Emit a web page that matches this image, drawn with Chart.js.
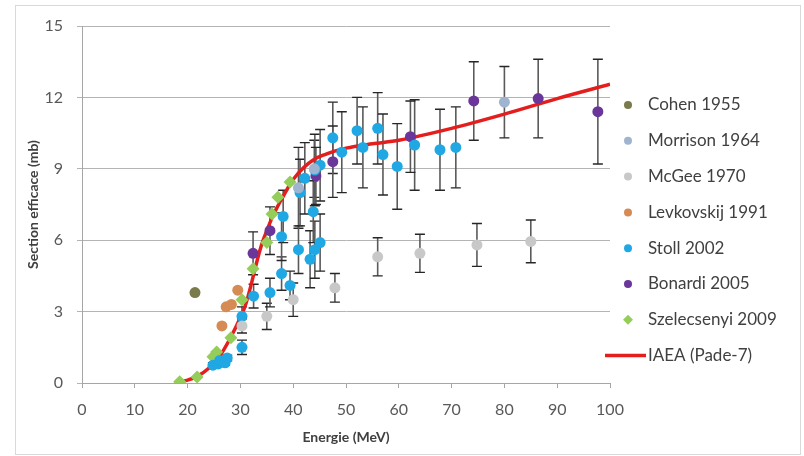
<!DOCTYPE html>
<html>
<head>
<meta charset="utf-8">
<script src="https://cdn.jsdelivr.net/npm/chart.js@4"></script>
<style>
body { margin: 0; background: #fff; }
</style>
</head>
<body>
<canvas id="xs" width="804" height="456"></canvas>
<script>
// series data (energy MeV, cross section mb, error mb)
var cohenX = [21.4];
var cohenY = [3.8];

var morrisonX = [41, 44, 80];
var morrisonY = [8.2, 9.0, 11.8];
var morrisonErr = [1.7, 1.2, 1.5];

var mcgeeX = [30.3, 35, 40, 47.9, 56, 64, 74.8, 85];
var mcgeeY = [2.4, 2.8, 3.5, 4.0, 5.3, 5.45, 5.8, 5.95];
var mcgeeErr = [0.3, 0.55, 0.7, 0.6, 0.8, 0.8, 0.9, 0.9];

var levkX = [26.5, 27.3, 28.3, 29.5];
var levkY = [2.4, 3.2, 3.3, 3.9];

var stollX = [24.8, 25.8, 26.1, 27.1, 27.5, 30.3, 30.3, 32.5, 35.6, 37.8, 39.4, 37.8, 38.1, 41, 43.2, 44.1, 45.1, 43.8, 41.3, 42.2, 44.1, 45.1, 47.5, 49.2, 52.1, 53.2, 56, 57, 59.7, 63, 67.8, 70.8];
var stollY = [0.75, 0.8, 0.95, 0.85, 1.05, 1.5, 2.8, 3.65, 3.8, 4.6, 4.1, 6.15, 7.0, 5.6, 5.2, 5.6, 5.9, 7.2, 8.0, 8.6, 8.95, 9.15, 10.3, 9.7, 10.6, 9.9, 10.7, 9.6, 9.1, 10.0, 9.8, 9.9];
var stollErr = [0.1, 0.1, 0.1, 0.1, 0.12, 0.3, 0.4, 0.5, 0.6, 0.7, 0.6, 1.0, 1.1, 1.0, 1.2, 1.2, 1.2, 1.3, 1.4, 1.5, 1.5, 1.5, 1.5, 1.7, 1.4, 1.7, 1.5, 1.7, 1.8, 1.9, 1.7, 1.7];

var bonardiX = [32.4, 35.6, 44.3, 47.5, 62.2, 74.2, 86.4, 97.7];
var bonardiY = [5.45, 6.4, 8.7, 9.3, 10.35, 11.85, 11.95, 11.4];
var bonardiErr = [0.9, 1.0, 1.2, 1.5, 1.5, 1.65, 1.65, 2.2];

var szelX = [18.5, 21.8, 24.8, 25.5, 28.2, 30.3, 32.4, 35, 36, 37.1, 39.4];
var szelY = [0.05, 0.25, 1.1, 1.3, 1.9, 3.5, 4.8, 5.9, 7.1, 7.8, 8.45];

var iaeaX = [17.5, 20, 22, 24, 26, 28, 30, 31, 32, 33, 34, 35, 36, 37, 38, 39, 40, 42, 44, 46, 48, 50, 55, 60, 70, 80, 90, 100];
var iaeaY = [0, 0.12, 0.3, 0.62, 1.1, 1.85, 2.75, 3.3, 4.1, 5.0, 5.8, 6.4, 6.95, 7.4, 7.8, 8.2, 8.55, 9.05, 9.4, 9.6, 9.75, 9.87, 10.05, 10.2, 10.7, 11.3, 11.95, 12.55];

var seriesNames = ['Cohen 1955', 'Morrison 1964', 'McGee 1970', 'Levkovskij 1991', 'Stoll 2002', 'Bonardi 2005', 'Szelecsenyi 2009', 'IAEA (Pade-7)'];
var yTicks = [0, 3, 6, 9, 12, 15];

function pts(xs, ys) {
  return xs.map(function(x, i) { return {x: x, y: ys[i]}; });
}

function dots(i, xs, ys, color, err, style) {
  return {
    type: 'scatter',
    label: seriesNames[i],
    data: pts(xs, ys),
    yErr: err || null,
    backgroundColor: color,
    borderWidth: 0,
    pointStyle: style || 'circle',
    pointRadius: style ? 6.5 : 5.5,
    order: 1
  };
}

var font = 'Lato, "Open Sans", sans-serif';

// error bars drawn through the scales, under the markers
var errorBars = {
  id: 'errorBars',
  beforeDatasetsDraw: function(chart) {
    var ctx = chart.ctx, sx = chart.scales.x, sy = chart.scales.y;
    ctx.save();
    chart.data.datasets.forEach(function(ds) {
      if (!ds.yErr) return;
      ds.data.forEach(function(p, i) {
        var e = ds.yErr[i];
        if (!e) return;
        var px = sx.getPixelForValue(p.x);
        var top = sy.getPixelForValue(p.y + e);
        var bot = sy.getPixelForValue(p.y - e);
        ctx.strokeStyle = '#5a5a5a';
        ctx.lineWidth = 1.6;
        ctx.beginPath();
        ctx.moveTo(px, top); ctx.lineTo(px, bot);
        ctx.stroke();
        ctx.strokeStyle = '#262626';
        ctx.lineWidth = 1.4;
        ctx.beginPath();
        ctx.moveTo(px - 5, top); ctx.lineTo(px + 5, top);
        ctx.moveTo(px - 5, bot); ctx.lineTo(px + 5, bot);
        ctx.stroke();
      });
    });
    ctx.restore();
  }
};

// legend at the right + outer frame
var sideLegend = {
  id: 'sideLegend',
  afterDraw: function(chart) {
    var ctx = chart.ctx;
    ctx.save();
    ctx.strokeStyle = '#d9d9d9';
    ctx.lineWidth = 1;
    ctx.strokeRect(15.5, 5.5, 785, 449);
    ctx.font = '17px ' + font;
    ctx.textBaseline = 'middle';
    chart.data.datasets.forEach(function(ds, i) {
      var y = 105 + i * 35.8;
      if (ds.type === 'line') {
        ctx.strokeStyle = ds.borderColor;
        ctx.lineWidth = 3.5;
        ctx.beginPath();
        ctx.moveTo(605, y); ctx.lineTo(646, y);
        ctx.stroke();
      } else {
        ctx.fillStyle = ds.backgroundColor;
        ctx.beginPath();
        if (ds.pointStyle === 'rectRot') {
          ctx.moveTo(628, y - 5); ctx.lineTo(633, y); ctx.lineTo(628, y + 5); ctx.lineTo(623, y);
        } else {
          ctx.arc(628, y, 4, 0, Math.PI * 2);
        }
        ctx.fill();
      }
      ctx.fillStyle = '#404040';
      ctx.fillText(ds.label, 648, y);
    });
    ctx.restore();
  }
};

var config = {
  data: {
    datasets: [
      dots(0, cohenX, cohenY, '#7b7a4c'),
      dots(1, morrisonX, morrisonY, '#9fb4cf', morrisonErr),
      dots(2, mcgeeX, mcgeeY, '#c8c8c8', mcgeeErr),
      dots(3, levkX, levkY, '#d68b55'),
      dots(4, stollX, stollY, '#1fa8e3', stollErr),
      dots(5, bonardiX, bonardiY, '#6b369a', bonardiErr),
      dots(6, szelX, szelY, '#95cd5a', null, 'rectRot'),
      {
        type: 'line',
        label: seriesNames[7],
        data: pts(iaeaX, iaeaY),
        borderColor: '#e41d1d',
        borderWidth: 3.5,
        pointRadius: 0,
        cubicInterpolationMode: 'monotone',
        fill: false,
        order: 2
      }
    ]
  },
  options: {
    responsive: false,
    animation: false,
    layout: { padding: { top: 26, right: 194, left: 0, bottom: 0 } },
    plugins: {
      legend: { display: false },
      tooltip: { enabled: false }
    },
    scales: {
      x: {
        type: 'linear',
        min: 0,
        max: 100,
        afterFit: function(s) { s.height = 73; },
        ticks: { stepSize: 10, padding: 12, color: '#595959', font: { family: font, size: 16 } },
        grid: { drawOnChartArea: false, drawTicks: true, tickLength: 5, color: '#a6a6a6' },
        border: { color: '#a6a6a6' },
        title: { display: true, text: 'Energie (MeV)', color: '#404040', padding: { top: 0, bottom: 10 }, font: { family: font, size: 14, weight: 'bold' } }
      },
      y: {
        min: 0,
        max: 15,
        afterFit: function(s) { s.width = 82; },
        afterBuildTicks: function(s) { s.ticks = yTicks.map(function(v) { return {value: v}; }); },
        ticks: { padding: 14, color: '#595959', font: { family: font, size: 16 } },
        grid: { color: '#b4b4b4', tickLength: 5 },
        border: { color: '#a6a6a6' },
        title: { display: true, text: 'Section efficace (mb)', color: '#404040', padding: { top: 25, bottom: 0 }, font: { family: font, size: 14, weight: 'bold' } }
      }
    }
  },
  plugins: [errorBars, sideLegend]
};

window.onload = function() {
  var ctx = document.getElementById('xs').getContext('2d');
  window.myChart = new Chart(ctx, config);
};
</script>
</body>
</html>
